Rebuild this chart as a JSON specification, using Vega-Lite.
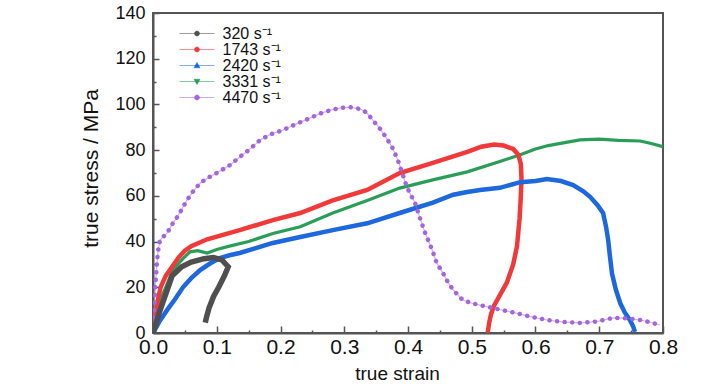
{
  "$schema": "https://vega.github.io/schema/vega-lite/v6.json",
  "autosize": "none",
  "width": 510,
  "height": 320,
  "padding": {"left": 153, "top": 13, "right": 65, "bottom": 57},
  "background": "white",
  "config": {
    "view": {"stroke": "#555555", "strokeWidth": 2},
    "font": "Liberation Sans",
    "axis": {
      "labelFont": "Liberation Sans", "labelFontSize": 18, "labelColor": "#111",
      "titleFont": "Liberation Sans", "titleFontSize": 20, "titleFontWeight": "normal", "titleColor": "#111",
      "domainColor": "#555555", "domainWidth": 2, "tickColor": "#555555", "tickWidth": 1.5, "grid": false
    }
  },
  "data": {"values": [
    {"rate":"320","i":0,"strain":0,"stress":0},
    {"rate":"320","i":1,"strain":0.01,"stress":9},
    {"rate":"320","i":2,"strain":0.02,"stress":17},
    {"rate":"320","i":3,"strain":0.03,"stress":25},
    {"rate":"320","i":4,"strain":0.045,"stress":29},
    {"rate":"320","i":5,"strain":0.06,"stress":31},
    {"rate":"320","i":6,"strain":0.08,"stress":32.5},
    {"rate":"320","i":7,"strain":0.095,"stress":33},
    {"rate":"320","i":8,"strain":0.108,"stress":32},
    {"rate":"320","i":9,"strain":0.118,"stress":29},
    {"rate":"320","i":10,"strain":0.112,"stress":25},
    {"rate":"320","i":11,"strain":0.103,"stress":20},
    {"rate":"320","i":12,"strain":0.095,"stress":16},
    {"rate":"320","i":13,"strain":0.088,"stress":11},
    {"rate":"320","i":14,"strain":0.084,"stress":7},
    {"rate":"320","i":15,"strain":0.082,"stress":4.5},

    {"rate":"1743","i":0,"strain":0,"stress":0},
    {"rate":"1743","i":1,"strain":0.003,"stress":8},
    {"rate":"1743","i":2,"strain":0.008,"stress":15},
    {"rate":"1743","i":3,"strain":0.012,"stress":20},
    {"rate":"1743","i":4,"strain":0.02,"stress":25},
    {"rate":"1743","i":5,"strain":0.03,"stress":29},
    {"rate":"1743","i":6,"strain":0.04,"stress":33},
    {"rate":"1743","i":7,"strain":0.05,"stress":36},
    {"rate":"1743","i":8,"strain":0.06,"stress":38},
    {"rate":"1743","i":9,"strain":0.085,"stress":41},
    {"rate":"1743","i":10,"strain":0.136,"stress":45},
    {"rate":"1743","i":11,"strain":0.188,"stress":49.4},
    {"rate":"1743","i":12,"strain":0.231,"stress":52.5},
    {"rate":"1743","i":13,"strain":0.282,"stress":58},
    {"rate":"1743","i":14,"strain":0.336,"stress":62.6},
    {"rate":"1743","i":15,"strain":0.387,"stress":70},
    {"rate":"1743","i":16,"strain":0.439,"stress":74.4},
    {"rate":"1743","i":17,"strain":0.493,"stress":79.2},
    {"rate":"1743","i":18,"strain":0.515,"stress":81.5},
    {"rate":"1743","i":19,"strain":0.535,"stress":82.5},
    {"rate":"1743","i":20,"strain":0.55,"stress":82},
    {"rate":"1743","i":21,"strain":0.565,"stress":80.5},
    {"rate":"1743","i":22,"strain":0.573,"stress":78},
    {"rate":"1743","i":23,"strain":0.577,"stress":74},
    {"rate":"1743","i":24,"strain":0.578,"stress":68},
    {"rate":"1743","i":25,"strain":0.577,"stress":60},
    {"rate":"1743","i":26,"strain":0.575,"stress":50},
    {"rate":"1743","i":27,"strain":0.571,"stress":38},
    {"rate":"1743","i":28,"strain":0.565,"stress":30},
    {"rate":"1743","i":29,"strain":0.555,"stress":22},
    {"rate":"1743","i":30,"strain":0.545,"stress":17},
    {"rate":"1743","i":31,"strain":0.535,"stress":12},
    {"rate":"1743","i":32,"strain":0.53,"stress":8},
    {"rate":"1743","i":33,"strain":0.527,"stress":4},
    {"rate":"1743","i":34,"strain":0.525,"stress":0},

    {"rate":"2420","i":0,"strain":0,"stress":0},
    {"rate":"2420","i":1,"strain":0.003,"stress":1.5},
    {"rate":"2420","i":2,"strain":0.01,"stress":5},
    {"rate":"2420","i":3,"strain":0.022,"stress":10},
    {"rate":"2420","i":4,"strain":0.035,"stress":15},
    {"rate":"2420","i":5,"strain":0.047,"stress":20},
    {"rate":"2420","i":6,"strain":0.06,"stress":24},
    {"rate":"2420","i":7,"strain":0.074,"stress":27.5},
    {"rate":"2420","i":8,"strain":0.09,"stress":30.5},
    {"rate":"2420","i":9,"strain":0.105,"stress":32.8},
    {"rate":"2420","i":10,"strain":0.12,"stress":34},
    {"rate":"2420","i":11,"strain":0.136,"stress":35},
    {"rate":"2420","i":12,"strain":0.16,"stress":37},
    {"rate":"2420","i":13,"strain":0.188,"stress":39.4},
    {"rate":"2420","i":14,"strain":0.231,"stress":42},
    {"rate":"2420","i":15,"strain":0.282,"stress":45},
    {"rate":"2420","i":16,"strain":0.336,"stress":48},
    {"rate":"2420","i":17,"strain":0.387,"stress":52.5},
    {"rate":"2420","i":18,"strain":0.439,"stress":57},
    {"rate":"2420","i":19,"strain":0.471,"stress":60.5},
    {"rate":"2420","i":20,"strain":0.493,"stress":61.7},
    {"rate":"2420","i":21,"strain":0.513,"stress":62.6},
    {"rate":"2420","i":22,"strain":0.544,"stress":63.5},
    {"rate":"2420","i":23,"strain":0.576,"stress":66},
    {"rate":"2420","i":24,"strain":0.6,"stress":66.5},
    {"rate":"2420","i":25,"strain":0.618,"stress":67.4},
    {"rate":"2420","i":26,"strain":0.64,"stress":66.5},
    {"rate":"2420","i":27,"strain":0.659,"stress":64.7},
    {"rate":"2420","i":28,"strain":0.675,"stress":62},
    {"rate":"2420","i":29,"strain":0.686,"stress":59.5},
    {"rate":"2420","i":30,"strain":0.697,"stress":56},
    {"rate":"2420","i":31,"strain":0.706,"stress":52.5},
    {"rate":"2420","i":32,"strain":0.711,"stress":46},
    {"rate":"2420","i":33,"strain":0.714,"stress":40.7},
    {"rate":"2420","i":34,"strain":0.717,"stress":33},
    {"rate":"2420","i":35,"strain":0.72,"stress":26},
    {"rate":"2420","i":36,"strain":0.726,"stress":19},
    {"rate":"2420","i":37,"strain":0.733,"stress":13},
    {"rate":"2420","i":38,"strain":0.74,"stress":9},
    {"rate":"2420","i":39,"strain":0.748,"stress":5.7},
    {"rate":"2420","i":40,"strain":0.753,"stress":3},
    {"rate":"2420","i":41,"strain":0.756,"stress":0.5},

    {"rate":"3331","i":0,"strain":0,"stress":0},
    {"rate":"3331","i":1,"strain":0.005,"stress":7},
    {"rate":"3331","i":2,"strain":0.011,"stress":14},
    {"rate":"3331","i":3,"strain":0.02,"stress":20},
    {"rate":"3331","i":4,"strain":0.031,"stress":27.5},
    {"rate":"3331","i":5,"strain":0.045,"stress":32},
    {"rate":"3331","i":6,"strain":0.058,"stress":35.5},
    {"rate":"3331","i":7,"strain":0.07,"stress":36},
    {"rate":"3331","i":8,"strain":0.085,"stress":35},
    {"rate":"3331","i":9,"strain":0.1,"stress":36.5},
    {"rate":"3331","i":10,"strain":0.12,"stress":38},
    {"rate":"3331","i":11,"strain":0.15,"stress":40},
    {"rate":"3331","i":12,"strain":0.188,"stress":43.5},
    {"rate":"3331","i":13,"strain":0.231,"stress":46.5},
    {"rate":"3331","i":14,"strain":0.282,"stress":52.5},
    {"rate":"3331","i":15,"strain":0.336,"stress":58},
    {"rate":"3331","i":16,"strain":0.387,"stress":63.4},
    {"rate":"3331","i":17,"strain":0.439,"stress":67},
    {"rate":"3331","i":18,"strain":0.493,"stress":70.5},
    {"rate":"3331","i":19,"strain":0.544,"stress":75},
    {"rate":"3331","i":20,"strain":0.576,"stress":78},
    {"rate":"3331","i":21,"strain":0.6,"stress":80.5},
    {"rate":"3331","i":22,"strain":0.62,"stress":82},
    {"rate":"3331","i":23,"strain":0.65,"stress":83.5},
    {"rate":"3331","i":24,"strain":0.67,"stress":84.5},
    {"rate":"3331","i":25,"strain":0.7,"stress":84.8},
    {"rate":"3331","i":26,"strain":0.73,"stress":84.3},
    {"rate":"3331","i":27,"strain":0.764,"stress":84},
    {"rate":"3331","i":28,"strain":0.78,"stress":83},
    {"rate":"3331","i":29,"strain":0.8,"stress":81.5},

    {"rate":"4470","i":0,"strain":0,"stress":0},
    {"rate":"4470","i":1,"strain":0.002,"stress":12},
    {"rate":"4470","i":2,"strain":0.004,"stress":22},
    {"rate":"4470","i":3,"strain":0.006,"stress":30},
    {"rate":"4470","i":4,"strain":0.008,"stress":36},
    {"rate":"4470","i":5,"strain":0.011,"stress":40.7},
    {"rate":"4470","i":6,"strain":0.022,"stress":43.7},
    {"rate":"4470","i":7,"strain":0.03,"stress":47.5},
    {"rate":"4470","i":8,"strain":0.038,"stress":50.7},
    {"rate":"4470","i":9,"strain":0.047,"stress":55},
    {"rate":"4470","i":10,"strain":0.053,"stress":58},
    {"rate":"4470","i":11,"strain":0.063,"stress":62},
    {"rate":"4470","i":12,"strain":0.074,"stress":65.6},
    {"rate":"4470","i":13,"strain":0.087,"stress":68},
    {"rate":"4470","i":14,"strain":0.1,"stress":70},
    {"rate":"4470","i":15,"strain":0.121,"stress":73.5},
    {"rate":"4470","i":16,"strain":0.136,"stress":77},
    {"rate":"4470","i":17,"strain":0.15,"stress":80},
    {"rate":"4470","i":18,"strain":0.168,"stress":84.4},
    {"rate":"4470","i":19,"strain":0.185,"stress":87},
    {"rate":"4470","i":20,"strain":0.204,"stress":88.8},
    {"rate":"4470","i":21,"strain":0.225,"stress":91.5},
    {"rate":"4470","i":22,"strain":0.246,"stress":94},
    {"rate":"4470","i":23,"strain":0.262,"stress":96},
    {"rate":"4470","i":24,"strain":0.278,"stress":97.5},
    {"rate":"4470","i":25,"strain":0.295,"stress":98.5},
    {"rate":"4470","i":26,"strain":0.309,"stress":98.8},
    {"rate":"4470","i":27,"strain":0.325,"stress":98},
    {"rate":"4470","i":28,"strain":0.335,"stress":96.5},
    {"rate":"4470","i":29,"strain":0.345,"stress":93},
    {"rate":"4470","i":30,"strain":0.353,"stress":90.5},
    {"rate":"4470","i":31,"strain":0.361,"stress":87.5},
    {"rate":"4470","i":32,"strain":0.368,"stress":84.5},
    {"rate":"4470","i":33,"strain":0.375,"stress":81.4},
    {"rate":"4470","i":34,"strain":0.384,"stress":75.7},
    {"rate":"4470","i":35,"strain":0.391,"stress":70},
    {"rate":"4470","i":36,"strain":0.398,"stress":64},
    {"rate":"4470","i":37,"strain":0.405,"stress":60},
    {"rate":"4470","i":38,"strain":0.411,"stress":57},
    {"rate":"4470","i":39,"strain":0.419,"stress":50},
    {"rate":"4470","i":40,"strain":0.427,"stress":43.7},
    {"rate":"4470","i":41,"strain":0.438,"stress":36.3},
    {"rate":"4470","i":42,"strain":0.445,"stress":30.6},
    {"rate":"4470","i":43,"strain":0.455,"stress":26.2},
    {"rate":"4470","i":44,"strain":0.463,"stress":22},
    {"rate":"4470","i":45,"strain":0.471,"stress":18.8},
    {"rate":"4470","i":46,"strain":0.486,"stress":14.4},
    {"rate":"4470","i":47,"strain":0.5,"stress":13},
    {"rate":"4470","i":48,"strain":0.513,"stress":12.2},
    {"rate":"4470","i":49,"strain":0.54,"stress":10.5},
    {"rate":"4470","i":50,"strain":0.565,"stress":9},
    {"rate":"4470","i":51,"strain":0.59,"stress":7.3},
    {"rate":"4470","i":52,"strain":0.618,"stress":5.7},
    {"rate":"4470","i":53,"strain":0.645,"stress":4.8},
    {"rate":"4470","i":54,"strain":0.67,"stress":4.4},
    {"rate":"4470","i":55,"strain":0.695,"stress":5},
    {"rate":"4470","i":56,"strain":0.722,"stress":6.6},
    {"rate":"4470","i":57,"strain":0.74,"stress":6.5},
    {"rate":"4470","i":58,"strain":0.764,"stress":5.7},
    {"rate":"4470","i":59,"strain":0.78,"stress":4.7},
    {"rate":"4470","i":60,"strain":0.795,"stress":3.5}
  ]},
  "encoding": {
    "x": {"field": "strain", "type": "quantitative",
      "scale": {"domain": [0, 0.8], "nice": false, "zero": false},
      "axis": {"title": "true strain", "titleFontSize": 19, "titleX": 244, "titleY": 31, "titleBaseline": "top",
        "labelFontSize": 21,
        "values": [0,0.05,0.1,0.15,0.2,0.25,0.3,0.35,0.4,0.45,0.5,0.55,0.6,0.65,0.7,0.75,0.8],
        "labelExpr": "abs(datum.value*10 - round(datum.value*10)) < 0.001 ? format(datum.value, '.1f') : ''",
        "tickSize": {"condition": {"test": "abs(datum.value*10 - round(datum.value*10)) < 0.001", "value": -7}, "value": -3},
        "labelPadding": 10, "labelFlush": false, "labelOverlap": false}},
    "y": {"field": "stress", "type": "quantitative",
      "scale": {"domain": [0, 140], "nice": false},
      "axis": {"title": "true stress / MPa", "titleFontSize": 21, "titleY": 155,
        "values": [0,10,20,30,40,50,60,70,80,90,100,110,120,130,140],
        "labelExpr": "datum.value % 20 == 0 ? format(datum.value, 'd') : ''",
        "tickSize": {"condition": {"test": "datum.value % 20 == 0", "value": -6}, "value": -3},
        "labelPadding": 14, "titlePadding": 13, "labelFlush": false, "labelOverlap": false}},
    "order": {"field": "i", "type": "quantitative"},
    "color": {"field": "rate", "type": "nominal",
      "scale": {"domain": ["320","1743","2420","3331","4470"],
                "range": ["#4f4f4f","#f03a3a","#1c68dc","#2a9d58","#a366dd"]}}
  },
  "layer": [
    {"transform": [{"filter": "datum.rate == '3331'"}],
     "mark": {"type": "line", "strokeWidth": 3.2, "clip": true},
     "encoding": {"color": {"field": "rate", "type": "nominal",
       "legend": {"title": null, "orient": "none", "legendX": 36, "legendY": 12.5,
         "padding": 0, "rowPadding": 0, "symbolSize": 100, "symbolStrokeWidth": 1,
         "labelFont": "Liberation Sans", "labelFontSize": 16, "labelColor": "#111", "labelOffset": 17.5,
         "labelExpr": "datum.label + ' s⁻¹'",
         "encode": {"symbols": {"update": {
           "shape": {"signal": "datum.value == '2420' ? 'M-3.5,0L3.5,0M-0.6,0.45L0.6,0.45L0,-0.6Z' : datum.value == '3331' ? 'M-3.5,0L3.5,0M-0.6,-0.45L0.6,-0.45L0,0.6Z' : 'M-3.5,0L3.5,0M0.5,0A0.5,0.5,0,1,1,-0.5,0A0.5,0.5,0,1,1,0.5,0Z'"},
           "fill": {"scale": "color", "field": "value"},
           "stroke": {"scale": "color", "field": "value"},
           "strokeOpacity": {"value": 0.55},
           "opacity": {"value": 1}}}}}}}},
    {"transform": [{"filter": "datum.rate == '1743'"}],
     "mark": {"type": "line", "strokeWidth": 4.5, "clip": true}},
    {"transform": [{"filter": "datum.rate == '2420'"}],
     "mark": {"type": "line", "strokeWidth": 4.5, "clip": true}},
    {"transform": [{"filter": "datum.rate == '4470'"}],
     "mark": {"type": "line", "strokeWidth": 1.2, "opacity": 0.5, "clip": true}},
    {"transform": [{"filter": "datum.rate == '4470'"}],
     "mark": {"type": "line", "strokeWidth": 4.5, "strokeDash": [0.1, 7.5], "strokeCap": "round", "clip": true}},
    {"transform": [{"filter": "datum.rate == '320'"}],
     "mark": {"type": "line", "strokeWidth": 5.5, "clip": true}}
  ]
}
